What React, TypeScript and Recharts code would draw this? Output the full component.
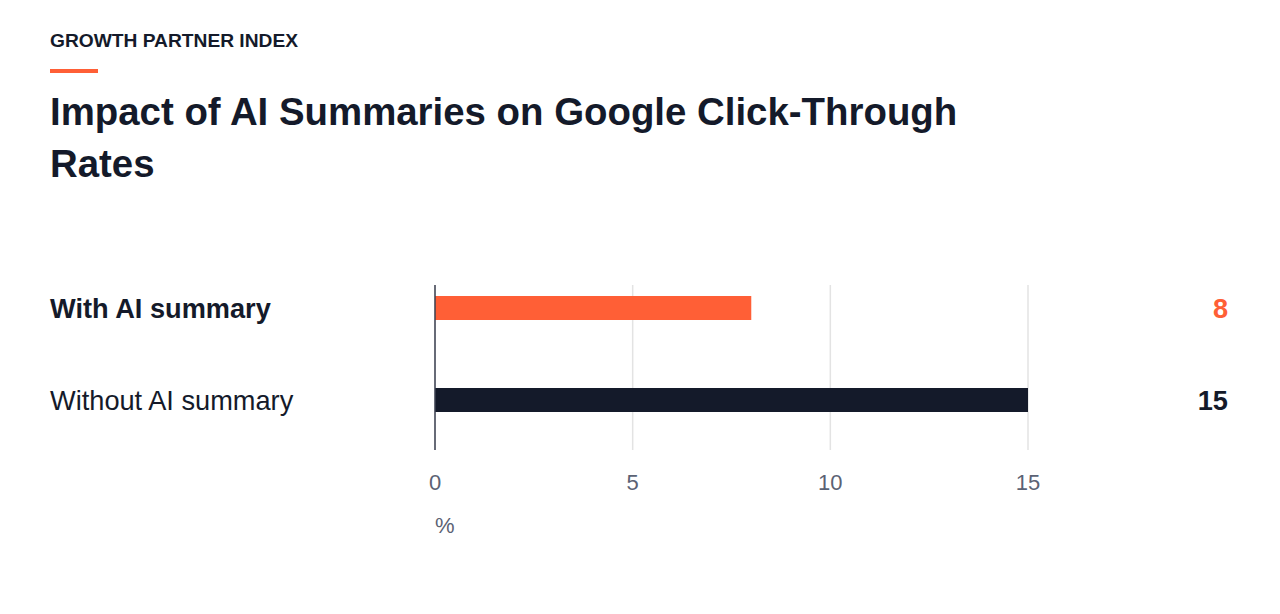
import { Bar, BarChart, CartesianGrid, Cell, LabelList, XAxis, YAxis } from "recharts";

const categories = ["With AI summary", "Without AI summary"];
const ctrValues = [8, 15];
const barColors = ["#ff5f36", "#141a2a"];
const xTicks = [0, 5, 10, 15];

const data = categories.map((name, i) => ({ name, ctr: ctrValues[i] }));

const FONT = '"Liberation Sans", Arial, Helvetica, sans-serif';
const INK = "#141a2a";

function CategoryTick(props: any) {
  const { y, payload, index } = props;
  const highlighted = index === 0;
  return (
    <text
      x={50}
      y={y}
      dy="0.35em"
      textAnchor="start"
      fontFamily={FONT}
      fontSize={27.2}
      fontWeight={highlighted ? 700 : 400}
      fill={INK}
    >
      {payload.value}
    </text>
  );
}

function ValueLabel(props: any) {
  const { y, height, value, index } = props;
  return (
    <text
      x={1228}
      y={y + height / 2}
      dy="0.35em"
      textAnchor="end"
      fontFamily={FONT}
      fontSize={27.2}
      fontWeight={700}
      fill={barColors[index]}
    >
      {value}
    </text>
  );
}

export default function App() {
  return (
    <div
      style={{
        position: "relative",
        width: 1280,
        height: 614,
        background: "#ffffff",
        fontFamily: FONT,
        color: INK,
      }}
    >
      <style>{`body{margin:0}`}</style>
      <div
        style={{
          position: "absolute",
          left: 50,
          top: 29,
          fontSize: 19.2,
          fontWeight: 700,
          lineHeight: "24px",
        }}
      >
        GROWTH PARTNER INDEX
      </div>
      <div
        style={{
          position: "absolute",
          left: 50,
          top: 69,
          width: 48,
          height: 4,
          background: "#ff5f36",
        }}
      />
      <div
        style={{
          position: "absolute",
          left: 50,
          top: 86,
          width: 960,
          fontSize: 38.4,
          fontWeight: 700,
          lineHeight: "52px",
        }}
      >
        Impact of AI Summaries on Google Click-Through Rates
      </div>
      <div style={{ position: "absolute", left: 0, top: 230 }}>
        <BarChart
          width={1280}
          height={340}
          data={data}
          layout="vertical"
          margin={{ top: 55, right: 252, bottom: 40, left: 0 }}
        >
          <CartesianGrid horizontal={false} stroke="#e3e3e3" strokeWidth={1.5} />
          <XAxis
            type="number"
            domain={[0, 15]}
            ticks={xTicks}
            axisLine={false}
            tickLine={false}
            tickMargin={18}
            tick={{ fill: "#5b6274", fontSize: 22, fontFamily: FONT }}
            label={{
              value: "%",
              position: "insideBottomLeft",
              offset: 0,
              dy: 3,
              fill: "#5b6274",
              fontSize: 22,
              fontFamily: FONT,
            }}
            height={80}
          />
          <YAxis
            type="category"
            dataKey="name"
            width={435}
            axisLine={{ stroke: "#3b4150", strokeWidth: 1.5 }}
            tickLine={false}
            padding={{ top: -23, bottom: 4 }}
            tick={<CategoryTick />}
          />
          <Bar dataKey="ctr" barSize={24} isAnimationActive={false}>
            {data.map((d, i) => (
              <Cell key={d.name} fill={barColors[i]} />
            ))}
            <LabelList dataKey="ctr" content={<ValueLabel />} />
          </Bar>
        </BarChart>
      </div>
    </div>
  );
}
